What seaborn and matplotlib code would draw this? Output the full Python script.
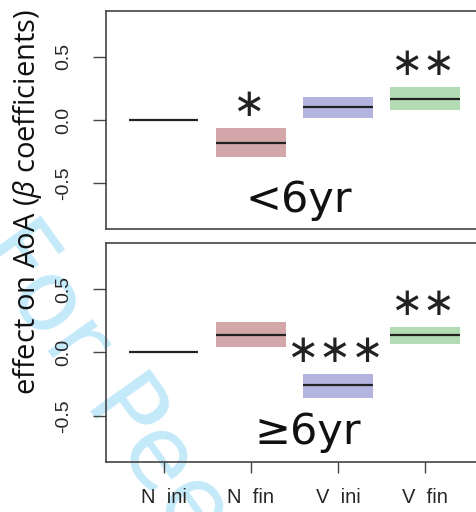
import numpy as np
import seaborn as sns
import matplotlib.pyplot as plt

# data
categories = ["N  ini", "N  fin", "V  ini", "V  fin"]
band_colors = ["none", "#d3a6a9", "#b4b4e0", "#b4dcb4"]

est_young = [0.0, -0.18, 0.10, 0.17]
lo_young = [0.0, -0.29, 0.015, 0.08]
hi_young = [0.0, -0.065, 0.18, 0.26]
stars_young = ["", "*", "", "**"]

est_old = [0.0, 0.14, -0.26, 0.135]
lo_old = [0.0, 0.04, -0.36, 0.07]
hi_old = [0.0, 0.24, -0.17, 0.20]
stars_old = ["", "", "***", "**"]

panel_labels = ["<6yr", "\u22656yr"]
yticks = [-0.5, 0.0, 0.5]

sns.set_style("white")
plt.rcParams["font.family"] = ["Liberation Sans", "DejaVu Sans"]
plt.rcParams["mathtext.fontset"] = "custom"
plt.rcParams["mathtext.it"] = "Open Sans:italic"
plt.rcParams["mathtext.rm"] = "Open Sans"

fig = plt.figure(figsize=(4.77, 5.12), dpi=100)
fig.patch.set_facecolor("white")

# watermark behind everything
fig.text(-0.005, 0.545, "For Peer Review", fontsize=72, family="DejaVu Sans",
         color="#c4eaf9", rotation=-54.5, rotation_mode="anchor",
         ha="left", va="center", zorder=-5)

ax_top = fig.add_axes([0.2222, 0.5527, 0.79, 0.4258])
ax_bot = fig.add_axes([0.2222, 0.0977, 0.79, 0.4277])

x = np.arange(len(categories))
panels = [
    (ax_top, est_young, lo_young, hi_young, stars_young, panel_labels[0], 0.512),
    (ax_bot, est_old, lo_old, hi_old, stars_old, panel_labels[1], 0.536),
]

for ax, est, lo, hi, stars, lab, lab_x in panels:
    ax.set_facecolor("none")
    lo = np.array(lo)
    hi = np.array(hi)
    ax.bar(x, hi - lo, bottom=lo, width=0.8, color=band_colors, edgecolor="none", zorder=1)
    ax.hlines(est, x - 0.4, x + 0.4, color="#222222", lw=1.6, zorder=2)
    for xi, h, s in zip(x, hi, stars):
        if s:
            ax.text(xi - 0.03, h + 0.185, s.replace("*", "\u2217"), ha="center", va="center",
                    fontsize=28, family="DejaVu Sans", color="#222222")
    ax.text(lab_x, 0.135, lab, transform=ax.transAxes, ha="center", va="center",
            fontsize=31, family="DejaVu Sans", color="#111111")
    ax.set_xlim(-0.66, 3.66)
    ax.set_ylim(-0.864, 0.864)
    ax.set_yticks(yticks)
    ax.set_yticklabels(["-0.5", "0.0", "0.5"], rotation=90, va="center")
    ax.tick_params(axis="y", length=9.5, width=1.0, color="#444444", pad=15,
                   labelsize=14, left=True)
    for sp in ax.spines.values():
        sp.set_color("#444444")
        sp.set_linewidth(1.2)

ax_top.set_xticks([])
ax_bot.set_xticks(x)
ax_bot.set_xticklabels(categories)
ax_bot.tick_params(axis="x", length=8, width=1.0, color="#444444", pad=11,
                   labelsize=14.5, bottom=True)

fig.text(0.057, 0.605, "effect on AoA ($\\beta$ coefficients)", rotation=90,
         ha="center", va="center", fontsize=21, family="Open Sans", color="#111111")

fig.savefig("out.png", dpi=100)
